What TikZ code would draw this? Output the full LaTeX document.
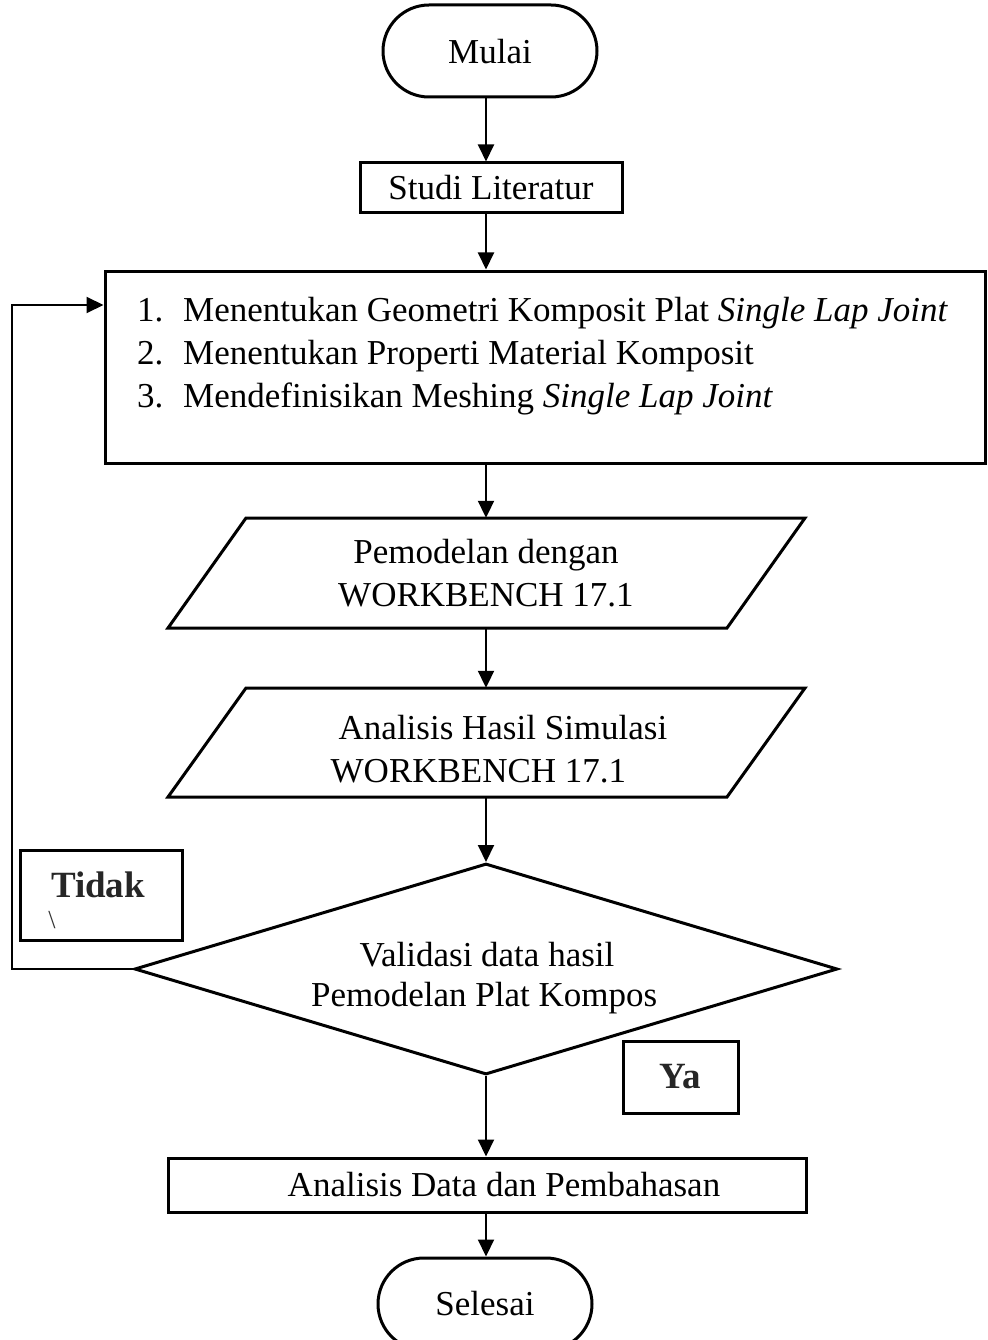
\documentclass[tikz,border=0pt]{standalone}
\usepackage{fontspec}
\setmainfont{Liberation Serif}
\usetikzlibrary{shapes.misc,shapes.geometric,arrows.meta}
\begin{document}
\begin{tikzpicture}[x=1pt,y=-1pt,
  every node/.style={font=\fontsize{35}{43}\selectfont, inner sep=0pt},
  term/.style={rounded rectangle, draw, line width=3pt, minimum width=214pt, minimum height=92pt},
  proc/.style={rectangle, draw, line width=3pt},
  pgram/.style={line width=3pt},
  arr/.style={line width=2pt, -{Triangle[length=17pt,width=16pt]}},
  lbl/.style={rectangle, draw, line width=3pt, fill=white},
  lbltext/.style={font=\fontsize{37}{40}\selectfont\bfseries, text=black!85}]
\useasboundingbox (0,0) rectangle (987,1340);
\clip (0,0) rectangle (987,1340);
\coordinate (ax) at (486,0);
\coordinate (fb) at (12,305);

% nodes
\node[term, text depth=-6pt] (mulai) at (490,51) {Mulai};
\node[proc, minimum width=262pt, minimum height=50pt] (studi) at (491,188) {Studi Literatur};
\node[proc, minimum width=880pt, minimum height=192pt] (box) at (545,367) {};
\node[anchor=west] (list) at (137,356) {%
  \begin{tabular}{@{}p{46pt}@{}l@{}}
  1. & Menentukan Geometri Komposit Plat \textit{Single Lap Joint}\\
  2. & Menentukan Properti Material Komposit\\
  3. & Mendefinisikan Meshing \textit{Single Lap Joint}
  \end{tabular}};

\draw[pgram] (246,518) -- (805,518) -- (727,628) -- (168,628) -- cycle;
\node[minimum height=110pt, minimum width=400pt, align=center] (p1) at (486,573) {Pemodelan dengan\\WORKBENCH 17.1};

\draw[pgram] (246,688) -- (805,688) -- (727,797) -- (168,797) -- cycle;
\node[minimum height=109pt, minimum width=400pt] (p2) at (486,742.5) {};
\node[align=left] (p2t) at (499,749) {\hspace*{8pt}Analisis Hasil Simulasi\\WORKBENCH 17.1};

\node[diamond, draw, line width=3pt, aspect=3.33, minimum width=703pt, minimum height=211pt] (dec) at (486,969) {};
\node (dect1) at (487,955) {Validasi data hasil};
\node[anchor=west] (dect2) at (311,998) {Pemodelan Plat Kompos};

\node[lbl, minimum width=162pt, minimum height=90pt] (tidak) at (101,895) {};
\node[lbltext] (tidakt) at (98,885) {Tidak};
\node[font=\fontsize{26}{26}\selectfont, text=black!80] (slash) at (52,920) {\textbackslash};

\node[lbl, minimum width=115pt, minimum height=72pt, lbltext] (ya) at (680.5,1077) {Ya};

\node[proc, minimum width=638pt, minimum height=54pt] (anal) at (487,1185) {\hspace*{34pt}Analisis Data dan Pembahasan};
\node[term] (sel) at (485,1304) {Selesai};

% connectors
\draw[arr] (ax |- mulai.south) -- (ax |- studi.north);
\draw[arr] (ax |- studi.south) -- (ax |- box.north);
\draw[arr] (ax |- box.south) -- (ax |- p1.north);
\draw[arr] (ax |- p1.south) -- (ax |- p2.north);
\draw[arr] (ax |- p2.south) -- (dec.north);
\draw[arr] (dec.south) -- (ax |- anal.north);
\draw[arr] (ax |- anal.south) -- (ax |- sel.north);
\draw[arr] (dec.west) -| (fb) -- (fb -| box.west);
\end{tikzpicture}
\end{document}
